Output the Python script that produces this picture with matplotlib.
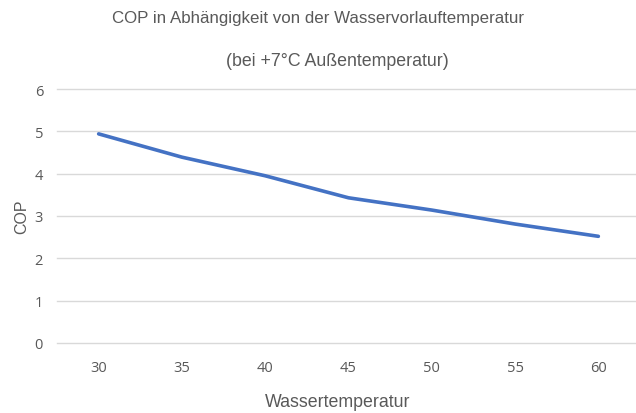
import numpy as np
import matplotlib.pyplot as plt

# COP of the heat pump over the flow temperature (outside air +7 °C)
temps = [30, 35, 40, 45, 50, 55, 60]
cop = [4.94, 4.39, 3.95, 3.43, 3.14, 2.81, 2.52]

fig = plt.figure(figsize=(6.36, 4.14), dpi=100)
ax = fig.add_axes([57 / 636, 70 / 414, 583 / 636, 254 / 414])

x = np.arange(len(temps))
ax.plot(x, cop, color="#4472C4", lw=2.6, solid_joinstyle="round", solid_capstyle="round")

ax.set_xlim(-0.5, len(temps) - 0.5)
ax.set_ylim(0, 6)
ax.set_xticks(x)
ax.set_xticklabels([str(t) for t in temps])
ax.set_yticks(range(0, 7))

ax.grid(axis="y", color="#D9D9D9", lw=1)
ax.set_axisbelow(True)
for gl in ax.get_ygridlines():
    gl.set_clip_on(False)
for s in ax.spines.values():
    s.set_visible(False)
ax.tick_params(length=0, labelsize=10.5, colors="#595959", pad=12)
ax.tick_params(axis="y", pad=10)
for lab in ax.get_xticklabels() + ax.get_yticklabels():
    lab.set_family("Open Sans")

ax.set_xlabel("Wassertemperatur", fontsize=12.8, color="#595959", family="Liberation Sans")
ax.xaxis.set_label_coords((338 - 57) / 583, -(403 - 344) / 254)
ax.xaxis.label.set_va("center")
ax.set_ylabel("COP", fontsize=11.5, color="#595959", family="Liberation Sans", labelpad=4)

fig.text(0.5, 1 - 19 / 414, "COP in Abhängigkeit von der Wasservorlauftemperatur",
         ha="center", va="center", fontsize=12.2, color="#595959", family="Liberation Sans")
fig.text(0.53, 1 - 61 / 414, "(bei +7°C Außentemperatur)",
         ha="center", va="center", fontsize=12.8, color="#595959", family="Liberation Sans")

fig.savefig("out.png", dpi=100)
